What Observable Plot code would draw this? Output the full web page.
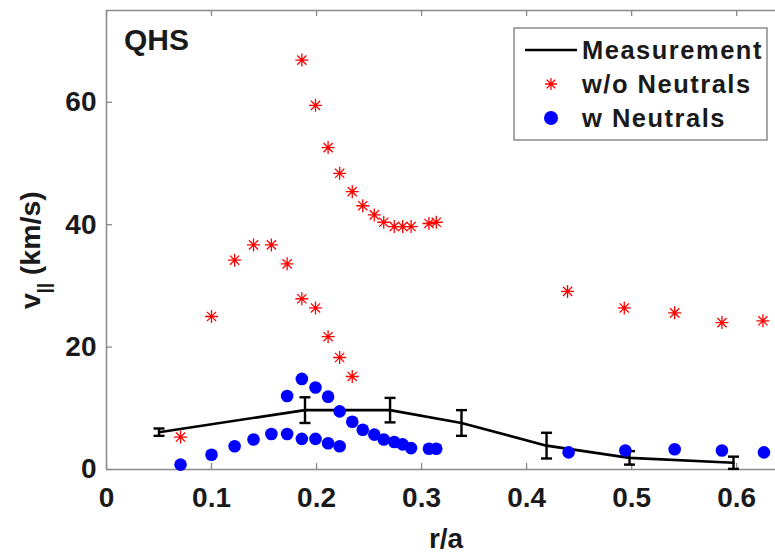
<!DOCTYPE html>
<html><head><meta charset="utf-8">
<script src="https://cdn.jsdelivr.net/npm/d3@7"></script>
<script src="https://cdn.jsdelivr.net/npm/@observablehq/plot@0.6"></script>
<style>html,body{margin:0;padding:0;background:#fff;}</style>
</head><body><div id="chart"></div>
<script>
// ---- data ----
const xTicks = [0, 0.1, 0.2, 0.3, 0.4, 0.5, 0.6];
const xTickLabels = ["0", "0.1", "0.2", "0.3", "0.4", "0.5", "0.6"];
const yTicks = [0, 20, 40, 60];

// Measurement (with error bars)
const xMeas = [0.050, 0.189, 0.270, 0.338, 0.419, 0.498, 0.597];
const vMeas = [6.1, 9.7, 9.7, 7.6, 3.9, 1.9, 1.1];
const eMeas = [0.6, 2.1, 2.0, 2.1, 2.1, 1.1, 1.0];

// w/o Neutrals (red asterisks)
const xWithout = [0.0705, 0.100, 0.122, 0.140, 0.157, 0.172, 0.186, 0.199, 0.211, 0.222, 0.234,
                  0.186, 0.199, 0.211, 0.222, 0.234, 0.244, 0.255, 0.264, 0.274, 0.282, 0.290, 0.307, 0.314,
                  0.439, 0.493, 0.541, 0.586, 0.625];
const vWithout = [5.3, 25.0, 34.2, 36.7, 36.7, 33.6, 27.9, 26.4, 21.7, 18.3, 15.2,
                  66.9, 59.5, 52.6, 48.4, 45.4, 43.1, 41.6, 40.4, 39.7, 39.7, 39.7, 40.2, 40.4,
                  29.1, 26.4, 25.6, 24.0, 24.3];

// w Neutrals (blue dots)
const xWith = [0.0705, 0.100, 0.122, 0.140, 0.157, 0.172, 0.186, 0.199, 0.211, 0.222,
               0.172, 0.186, 0.199, 0.211, 0.222, 0.234, 0.244, 0.255, 0.264, 0.274, 0.282, 0.290, 0.307, 0.314,
               0.440, 0.494, 0.541, 0.586, 0.626];
const vWith = [0.8, 2.4, 3.8, 4.9, 5.8, 5.8, 5.0, 5.0, 4.3, 3.8,
               12.0, 14.8, 13.4, 11.9, 9.5, 7.8, 6.5, 5.7, 4.9, 4.5, 4.1, 3.5, 3.4, 3.4,
               2.8, 3.1, 3.3, 3.1, 2.8];

const seriesNames = ["Measurement", "w/o Neutrals", "w Neutrals"];

// ---- build tables ----
const meas = xMeas.map((x, i) => ({x, v: vMeas[i], e: eMeas[i]}));
const caps = meas.flatMap(d => [{x: d.x, y: d.v - d.e}, {x: d.x, y: d.v + d.e}]);
const without = xWithout.map((x, i) => ({x, v: vWithout[i]}));
const withN = xWith.map((x, i) => ({x, v: vWith[i]}));

const asterisk = {draw(ctx, size) {
  const r = Math.sqrt(size / Math.PI), d = r * Math.SQRT1_2;
  ctx.moveTo(-r, 0); ctx.lineTo(r, 0);
  ctx.moveTo(0, -r); ctx.lineTo(0, r);
  ctx.moveTo(-d, -d); ctx.lineTo(d, d);
  ctx.moveTo(-d, d); ctx.lineTo(d, -d);
}};
const capSym = {draw(ctx, size) {
  const r = Math.sqrt(size / Math.PI);
  ctx.moveTo(-r, 0); ctx.lineTo(r, 0);
}};

const W = 775, H = 554, mL = 106, mR = 0, mT = 10, mB = 85;
const innerW = W - mL - mR, innerH = H - mT - mB;
const axisGray = "#8a8a8a";
const font = "'Liberation Sans', Arial, Helvetica, sans-serif";

const chart = Plot.plot({
  width: W, height: H,
  marginLeft: mL, marginRight: mR, marginTop: mT, marginBottom: mB,
  style: {fontFamily: font, fontWeight: "bold", fontSize: "28px", color: "#1a1a1a", background: "#fff"},
  x: {domain: [0, 0.637]},
  y: {domain: [0, 75]},
  marks: [
    // frame (left, bottom, top)
    Plot.ruleX([0], {stroke: axisGray, strokeWidth: 1.5}),
    Plot.ruleY([0], {stroke: axisGray, strokeWidth: 1.5}),
    Plot.ruleY([75], {stroke: axisGray, strokeWidth: 1.5}),
    // inward ticks
    Plot.ruleX(xTicks, {x: d => d, insetTop: innerH - 6, stroke: axisGray, strokeWidth: 1.3}),
    Plot.ruleX(xTicks, {x: d => d, insetBottom: innerH - 6, stroke: axisGray, strokeWidth: 1.3}),
    Plot.ruleY(yTicks, {y: d => d, insetRight: innerW - 6, stroke: axisGray, strokeWidth: 1.3}),
    Plot.axisX(xTicks, {tickSize: 0, tickPadding: 18, fontSize: 28, fontWeight: "bold",
      tickFormat: d => xTickLabels[xTicks.indexOf(d)], label: null, fill: "#1a1a1a"}),
    Plot.axisY(yTicks, {tickSize: 0, tickPadding: 10, fontSize: 28, fontWeight: "bold",
      label: null, fill: "#1a1a1a"}),
    // measurement
    Plot.ruleX(meas, {x: "x", y1: d => d.v - d.e, y2: d => d.v + d.e, stroke: "#000", strokeWidth: 2.4}),
    Plot.dot(caps, {x: "x", y: "y", symbol: capSym, r: 5.5, fill: "none", stroke: "#000", strokeWidth: 2.4}),
    Plot.line(meas, {x: "x", y: "v", stroke: "#000", strokeWidth: 2.6}),
    // w/o neutrals
    Plot.dot(without, {x: "x", y: "v", symbol: asterisk, r: 6.5, fill: "none", stroke: "#ff0000", strokeWidth: 1.3}),
    // w neutrals
    Plot.dot(withN, {x: "x", y: "v", r: 6.3, fill: "#0000ff", stroke: "none"})
  ]
});
document.getElementById("chart").appendChild(chart);

// ---- annotations: labels, panel tag, legend ----
const svg = d3.select(chart);
const txt = "#1a1a1a";

svg.append("text").attr("x", 446).attr("y", 548).attr("text-anchor", "middle")
  .attr("font-size", 28).attr("font-weight", "bold").attr("fill", txt).text("r/a");

const yl = svg.append("text").attr("transform", "translate(40,309) rotate(-90)")
  .attr("text-anchor", "start")
  .attr("font-size", 28.5).attr("font-weight", "bold").attr("fill", txt);
yl.append("tspan").text("v");
yl.append("tspan").attr("font-size", 18).attr("dy", 10).text("||");
yl.append("tspan").attr("dy", -10).text(" (km/s)");

svg.append("text").attr("x", 124).attr("y", 50).attr("font-size", 30).attr("text-anchor", "start")
  .attr("font-weight", "bold").attr("fill", txt).text("QHS");

const lg = svg.append("g");
lg.append("rect").attr("x", 514).attr("y", 28).attr("width", 253).attr("height", 112)
  .attr("fill", "#fff").attr("stroke", axisGray).attr("stroke-width", 1.5);
const rows = [50, 84, 118];
lg.append("line").attr("x1", 525).attr("x2", 577).attr("y1", rows[0]).attr("y2", rows[0])
  .attr("stroke", "#000").attr("stroke-width", 2.6);
lg.append("path").attr("transform", `translate(551,${rows[1]})`)
  .attr("d", d3.symbol(asterisk, Math.PI * 6 * 6)()).attr("fill", "none")
  .attr("stroke", "#ff0000").attr("stroke-width", 1.3);
lg.append("circle").attr("cx", 551).attr("cy", rows[2]).attr("r", 7).attr("fill", "#0000ff");
seriesNames.forEach((name, i) => {
  lg.append("text").attr("x", 582).attr("y", rows[i] + 9).attr("font-size", 25.5)
    .attr("text-anchor", "start")
    .attr("font-weight", "bold").attr("letter-spacing", 1.5).attr("fill", txt).text(name);
});
</script>
</body></html>
